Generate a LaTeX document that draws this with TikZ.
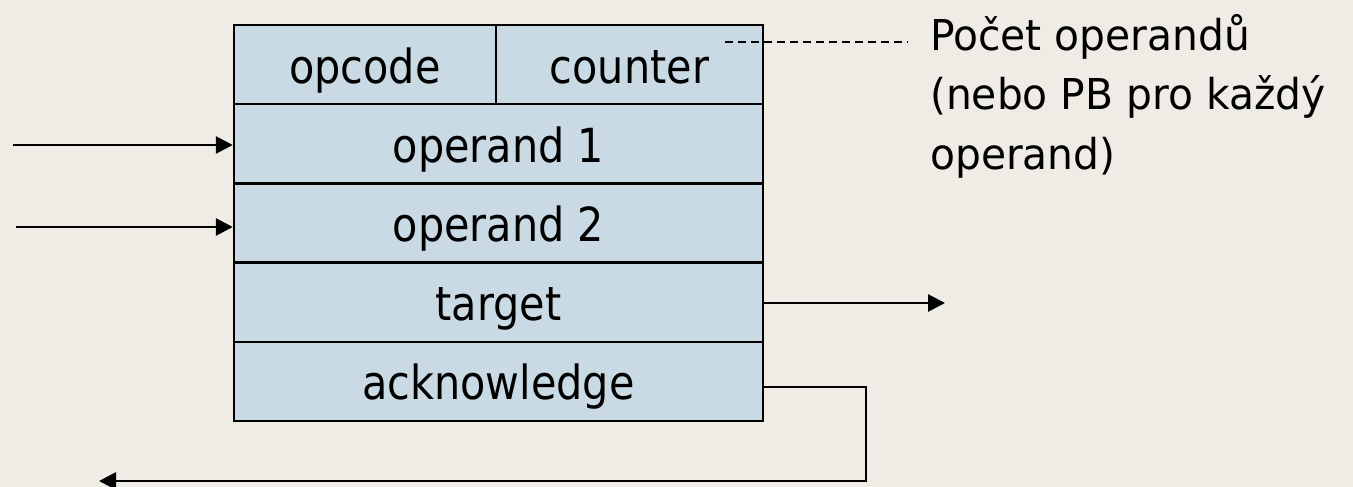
\documentclass[tikz,border=0pt]{standalone}
\usepackage{fontspec}
\setmainfont{DejaVu Sans}
\newfontfamily\boxfont[FakeStretch=0.88]{DejaVu Sans}
\newfontfamily\sidefont[FakeStretch=0.96]{DejaVu Sans}
\usetikzlibrary{arrows.meta}
\definecolor{bg}{RGB}{239,236,229}
\definecolor{cellfill}{RGB}{201,218,228}
\begin{document}
\begin{tikzpicture}[x=1pt,y=-1pt,
  cell/.style={draw=black,line width=2.4pt,fill=cellfill,minimum height=79.2pt,inner sep=0pt,
    text height=47pt,text depth=10pt,
    font=\boxfont\fontsize{47}{56}\selectfont},
  sidetext/.style={anchor=base west,inner sep=0pt,font=\sidefont\fontsize{42.5}{59}\selectfont},
  conn/.style={line width=2.8pt,-{Triangle[length=17pt,width=17pt]}},
  lead/.style={line width=2pt,dash pattern=on 8pt off 5pt}]
\fill[bg] (0,0) rectangle (1353,487);
\useasboundingbox (0,0) rectangle (1353,487);
% cells
\node[cell,minimum width=262pt] (opcode) at (365,64.6) {opcode};
\node[cell,minimum width=267pt] (counter) at (629.5,64.6) {counter};
\node[cell,minimum width=529pt] (op1) at (498.5,143.8) {operand 1};
\node[cell,minimum width=529pt] (op2) at (498.5,223) {operand 2};
\node[cell,minimum width=529pt] (target) at (498.5,302.2) {target};
\node[cell,minimum width=529pt] (ack) at (498.5,381.4) {acknowledge};
% side text
\node[sidetext] (s1) at (930,51) {Počet operandů};
\node[sidetext] (s2) at (930,110) {(nebo PB pro každý};
\node[sidetext] (s3) at (930,169) {operand)};
% coordinates
\coordinate (in1) at (13,145);
\coordinate (in2) at (16,227);
\coordinate (tout) at (945,303);
\coordinate (ackc) at (866,387);
\coordinate (ackb) at (866,481);
\coordinate (ackend) at (99,481);
\coordinate (dashA) at (725,42);
\coordinate (dashB) at (908,42);
% connectors
\draw[conn] (in1) -- (op1.west |- in1);
\draw[conn] (in2) -- (op2.west |- in2);
\draw[conn] (target.east |- tout) -- (tout);
\draw[conn] (ack.east |- ackc) -- (ackc) -- (ackb) -- (ackend);
\draw[lead] (dashA) -- (dashB);
\end{tikzpicture}
\end{document}
